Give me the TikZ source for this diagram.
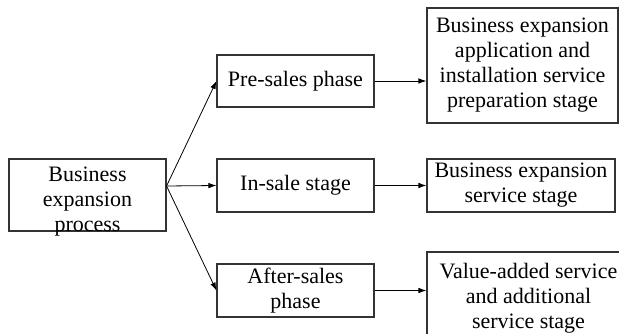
\documentclass[tikz,border=0pt]{standalone}
\usepackage{fontspec}
\setmainfont{Liberation Serif}
\usetikzlibrary{arrows.meta}

\begin{document}
\begin{tikzpicture}[x=1pt,y=-1pt,
  stagebox/.style={draw=black!80,line width=1.1pt,inner sep=0pt,align=center,
    font=\fontsize{22}{25}\selectfont},
  flow/.style={line width=0.8pt,-{Latex[length=8pt,width=5.5pt]}}]
\useasboundingbox (0,0) rectangle (619,334);

\node[stagebox,minimum width=157,minimum height=72] (proc) at (87.5,195)
  {\raisebox{-11.5pt}[0pt][0pt]{\begin{tabular}{@{}c@{}}Business\\expansion\\process\end{tabular}}};

\node[stagebox,minimum width=157,minimum height=52] (pre) at (295.5,81)    {Pre-sales phase};
\node[stagebox,minimum width=157,minimum height=53] (ins) at (295.5,185.5) {In-sale stage};
\node[stagebox,minimum width=157,minimum height=53] (aft) at (295.5,290.5) {After-sales\\phase};

\node[stagebox,minimum width=191,minimum height=115] (prep) at (522.5,65.5)
  {Business expansion\\application and\\installation service\\preparation stage};
\node[stagebox,minimum width=188,minimum height=53] (serv) at (521,185.5)
  {Business expansion\\service stage};
\node[stagebox,minimum width=203,minimum height=92] (val) at (528.5,298)
  {Value-added service\\and additional\\service stage};

\coordinate (fork) at ([yshift=9pt]proc.east);

\draw[flow] (fork) -- (pre.west);
\draw[flow] (fork) -- (ins.west);
\draw[flow] (fork) -- (aft.west);

\draw[flow] (pre.east) -- (pre.east -| prep.west);
\draw[flow] (ins.east) -- (ins.east -| serv.west);
\draw[flow] (aft.east) -- (aft.east -| val.west);

\end{tikzpicture}
\end{document}
